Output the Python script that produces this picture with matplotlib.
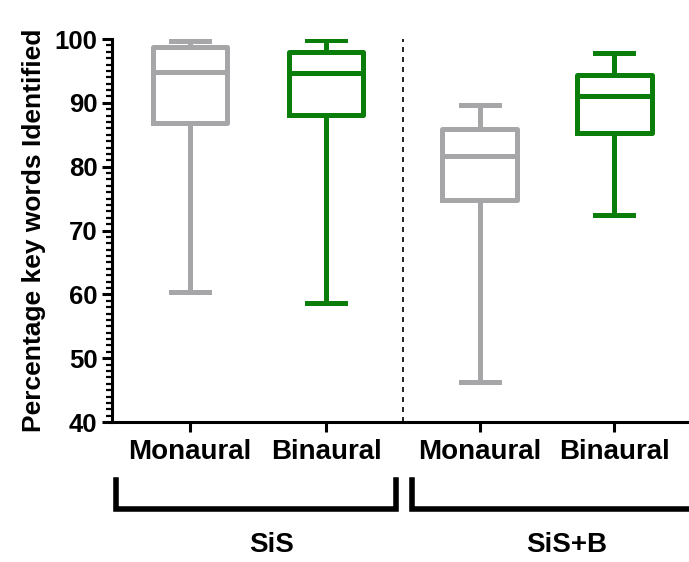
import matplotlib
matplotlib.use("Agg")
import matplotlib.pyplot as plt
import matplotlib.transforms as mtransforms
from matplotlib.ticker import MultipleLocator

plt.rcParams["font.family"] = ["Liberation Sans", "DejaVu Sans"]

# Datos (porcentaje de palabras clave identificadas)
labels = ["Monaural", "Binaural", "Monaural", "Binaural"]
positions = [1, 2, 3.13, 4.12]
whislo = [60.3, 58.7, 46.3, 72.4]
q1 = [86.8, 88.1, 74.8, 85.3]
med = [94.9, 94.6, 81.6, 91.1]
q3 = [98.7, 98.0, 85.9, 94.4]
whishi = [99.7, 99.8, 89.7, 97.8]
colors = ["#a6a6a8", "#0a7d0a", "#a6a6a8", "#0a7d0a"]

groups = ["SiS", "SiS+B"]
group_span = [(0.456, 2.515), (2.632, 4.9)]
group_center = [1.6, 3.77]
divider = 2.566

fig = plt.figure(figsize=(6.89, 5.62), dpi=100)
ax = fig.add_axes([0.1626, 0.249, 0.8374, 0.6816])

for i in range(len(labels)):
    stats = [dict(whislo=whislo[i], q1=q1[i], med=med[i], q3=q3[i], whishi=whishi[i])]
    c = colors[i]
    ax.bxp(stats, positions=[positions[i]], widths=0.55, showfliers=False,
           boxprops=dict(color=c, linewidth=3.6),
           medianprops=dict(color=c, linewidth=3.6),
           whiskerprops=dict(color=c, linewidth=3.6),
           capprops=dict(color=c, linewidth=3.6),
           capwidths=0.28, manage_ticks=False)

ax.axvline(divider, color="black", linestyle=(0, (3, 3)), linewidth=1.2)

ax.set_ylim(40, 100)
ax.set_xlim(0.426, 4.669)
ax.yaxis.set_major_locator(MultipleLocator(10))
ax.yaxis.set_minor_locator(MultipleLocator(1))
ax.set_xticks(positions)
ax.set_xticklabels(labels, fontsize=20, fontweight="bold")
ax.tick_params(axis="y", which="major", labelsize=18.5, width=2.2, length=7)
ax.tick_params(axis="y", which="minor", width=1.6, length=4)
ax.tick_params(axis="x", width=2.2, length=7, pad=5)
for lab in ax.get_yticklabels():
    lab.set_fontweight("bold")
ax.set_ylabel("Percentage key words Identified", fontsize=19, fontweight="bold", labelpad=6)

for s in ["top", "right"]:
    ax.spines[s].set_visible(False)
for s in ["left", "bottom"]:
    ax.spines[s].set_linewidth(2.2)

# Corchetes de grupo debajo del eje
trans = mtransforms.blended_transform_factory(ax.transData, ax.transAxes)
for g, (x0, x1), xc in zip(groups, group_span, group_center):
    ax.plot([x0, x0, x1, x1], [-0.151, -0.227, -0.227, -0.151], color="black",
            linewidth=4, transform=trans, clip_on=False, solid_joinstyle="miter")
    ax.text(xc, -0.322, g, transform=trans, ha="center", va="center",
            fontsize=20, fontweight="bold")

fig.savefig("out.png", dpi=100)
